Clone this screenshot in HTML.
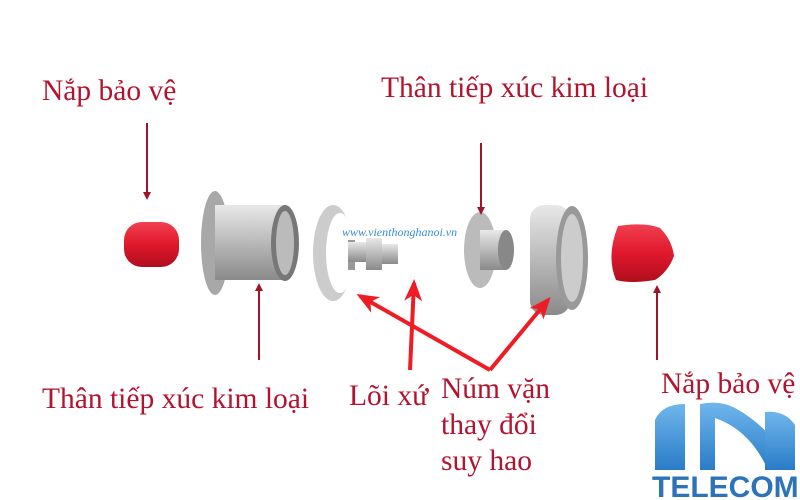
<!DOCTYPE html>
<html><head><meta charset="utf-8"><style>
body{margin:0;background:#fff}
svg{display:block}
text{font-family:"Liberation Serif",serif;fill:#b3132e}
</style></head><body>
<svg width="800" height="500" viewBox="0 0 800 500">
<defs>
<linearGradient id="m" x1="0" y1="0" x2="0" y2="1"><stop offset="0" stop-color="#e8e8e8"/><stop offset=".5" stop-color="#b9b9b9"/><stop offset="1" stop-color="#8a8a8a"/></linearGradient>
<linearGradient id="r" x1="0" y1="0" x2="0" y2="1"><stop offset="0" stop-color="#f04050"/><stop offset=".5" stop-color="#e0182c"/><stop offset="1" stop-color="#b00e1e"/></linearGradient>
<linearGradient id="b" x1="0" y1="0" x2="0" y2="1"><stop offset="0" stop-color="#6fb6ec"/><stop offset="1" stop-color="#2a7cc8"/></linearGradient>
<marker id="ad" markerWidth="8" markerHeight="8" refX="6" refY="4" orient="auto" markerUnits="userSpaceOnUse"><path d="M0,0L8,4L0,8z" fill="#a0142a"/></marker>
<marker id="ar" markerWidth="22" markerHeight="18" refX="18" refY="9" orient="auto" markerUnits="userSpaceOnUse"><path d="M0,0L22,9L0,18L6,9z" fill="#ee1c24"/></marker>
</defs>
<text x="42" y="100" font-size="29.5">Nắp bảo vệ</text>
<text x="381" y="97" font-size="29.5">Thân tiếp xúc kim loại</text>
<text x="42" y="408" font-size="29.5">Thân tiếp xúc kim loại</text>
<text x="349" y="405" font-size="29.5">Lõi xứ</text>
<text x="441" y="398" font-size="29.5">Núm vặn</text>
<text x="441" y="434" font-size="29.5">thay đổi</text>
<text x="441" y="470" font-size="29.5">suy hao</text>
<text x="661" y="393" font-size="29.5">Nắp bảo vệ</text>
<rect x="124" y="222" width="55" height="45" rx="18" fill="url(#r)"/>
<ellipse cx="215" cy="243" rx="14" ry="52" fill="#a8a8a8"/>
<rect x="215" y="205" width="70" height="75" fill="url(#m)"/>
<ellipse cx="285" cy="243" rx="14" ry="38" fill="#777"/>
<ellipse cx="285" cy="243" rx="9" ry="32" fill="#bbb"/>
<ellipse cx="333" cy="253" rx="20" ry="48" fill="#ccc"/>
<ellipse cx="340" cy="253" rx="14" ry="40" fill="#fff"/>
<rect x="348" y="240" width="7" height="30" fill="#999"/>
<rect x="348" y="242" width="20" height="20" fill="url(#m)"/>
<rect x="366" y="238" width="16" height="32" fill="url(#m)"/>
<rect x="382" y="244" width="16" height="20" fill="url(#m)"/>
<ellipse cx="480" cy="250" rx="16" ry="38" fill="#bbb"/>
<rect x="480" y="230" width="26" height="40" fill="url(#m)"/>
<ellipse cx="506" cy="250" rx="8" ry="20" fill="#888"/>
<rect x="530" y="205" width="40" height="110" rx="14" fill="url(#m)"/>
<ellipse cx="572" cy="258" rx="16" ry="52" fill="#999"/>
<ellipse cx="572" cy="258" rx="11" ry="44" fill="#ccc"/>
<path d="M618,226 Q645,222 660,228 Q672,240 674,256 Q668,272 655,280 Q630,284 616,280 Q606,256 618,226z" fill="url(#r)"/>
<text x="342" y="236" font-size="12" font-style="italic" style="fill:#3a8ad8">www.vienthonghanoi.vn</text>
<g stroke="#a0142a" stroke-width="2" marker-end="url(#ad)">
<line x1="147" y1="123" x2="147" y2="198"/>
<line x1="259" y1="360" x2="259" y2="285"/>
<line x1="481" y1="143" x2="481" y2="213"/>
<line x1="657" y1="360" x2="657" y2="287"/>
</g>
<g stroke="#ee1c24" stroke-width="4" marker-end="url(#ar)" fill="none">
<line x1="490" y1="370" x2="360" y2="296"/>
<line x1="410" y1="370" x2="414" y2="283"/>
<line x1="490" y1="370" x2="548" y2="300"/>
</g>
<g fill="url(#b)">
<path d="M655,470 L655,420 Q662,404 685,404 L685,470z"/>
<path d="M700,470 L700,404 Q720,400 735,408 Q775,430 790,470 L768,470 Q750,430 715,418 L715,470z"/>
<path d="M765,470 L765,412 Q785,410 795,425 L795,470z"/>
</g>
<text x="652" y="497" font-size="30" font-weight="bold" style="font-family:'Liberation Sans',sans-serif;fill:#2d73b8">TELECOM</text>
</svg>
</body></html>
